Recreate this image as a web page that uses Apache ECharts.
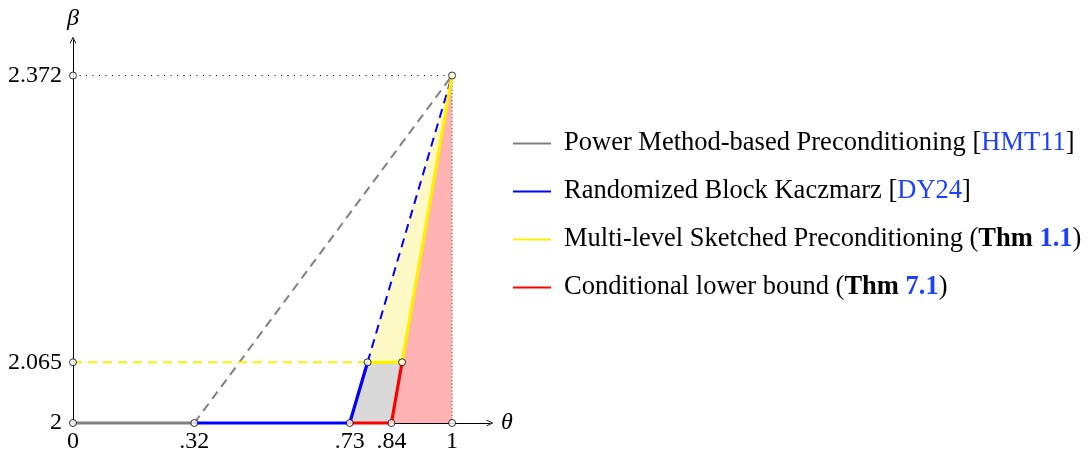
<!DOCTYPE html>
<html>
<head>
<meta charset="utf-8">
<script src="https://cdn.jsdelivr.net/npm/echarts@6/dist/echarts.min.js"></script>
<style>
html,body{margin:0;padding:0;background:#fff;}
#c{width:1092px;height:454px;}
</style>
</head>
<body>
<div id="c"></div>
<script>
// ---- data ----
const xTicks = [0, 0.32, 0.73, 0.84, 1];
const xTickLabels = ['0', '.32', '.73', '.84', '1'];
const yTicks = [2, 2.065, 2.372];
const yTickLabels = ['2', '2.065', '2.372'];

const names = [
  'Power Method-based Preconditioning',
  'Randomized Block Kaczmarz',
  'Multi-level Sketched Preconditioning',
  'Conditional lower bound'
];

const graySolid = [[0, 2], [0.32, 2]];
const grayDashed = [[0.32, 2], [1, 2.372]];
const blueSolid = [[0.32, 2], [0.73, 2], [0.777, 2.065]];
const blueDashed = [[0.777, 2.065], [1, 2.372]];
const redSolid = [[0.73, 2], [0.84, 2], [0.868, 2.065]];
const yellowSolid = [[0.777, 2.065], [0.868, 2.065], [1, 2.372]];
const yellowDashed = [[0, 2.065], [0.777, 2.065]];
const dottedTop = [[0, 2.372], [1, 2.372]];
const dottedRight = [[1, 2], [1, 2.372]];

const grayRegion = [[0.73, 2], [0.84, 2], [0.868, 2.065], [0.777, 2.065]];
const yellowRegion = [[0.777, 2.065], [0.868, 2.065], [1, 2.372]];
const redRegion = [[0.84, 2], [0.868, 2.065], [1, 2.372], [1, 2]];

const markerPoints = [[0, 2], [0.32, 2], [0.73, 2], [0.84, 2], [1, 2],
  [0, 2.065], [0, 2.372], [0.777, 2.065], [0.868, 2.065], [1, 2.372]];

// ---- chart ----
const FONT = 'Liberation Serif';
const GRAY = '#808080', BLUE = '#0000ff', RED = '#ff0000', YELLOW = '#fff000';
const LINK = '#1f3fff';
const LFS = 26.5;

function region(poly, color) {
  return {
    type: 'custom', silent: true, z: 1, clip: false,
    renderItem: function (params, api) {
      return {
        type: 'polygon',
        shape: { points: poly.map(function (p) { return api.coord(p); }) },
        style: { fill: color }
      };
    },
    data: [0]
  };
}
function line(name, data, color, width, dash, z) {
  return {
    type: 'line', name: name, data: data, clip: false, symbol: 'none',
    lineStyle: { color: color, width: width, type: dash || 'solid' },
    itemStyle: { color: color }, z: z || 3, silent: true, animation: false
  };
}

const arrowPath = 'path://M0,10 L5,0 L10,10 L8.8,10.5 L5,3 L1.2,10.5 Z';

const option = {
  animation: false,
  backgroundColor: '#fff',
  grid: { left: 73, right: 602, top: 40, bottom: 28 },
  xAxis: {
    type: 'value', min: 0, max: 1.1,
    axisLine: { lineStyle: { color: '#000', width: 1 }, symbol: ['none', arrowPath], symbolSize: [8, 7] },
    axisTick: { show: false },
    splitLine: { show: false },
    axisLabel: {
      customValues: xTicks,
      formatter: function (v) { var i = xTicks.indexOf(v); return i >= 0 ? xTickLabels[i] : ''; },
      color: '#000', fontFamily: FONT, fontSize: 24, margin: 7
    },
    name: 'θ', nameLocation: 'end', nameGap: 11,
    nameTextStyle: { fontFamily: FONT, fontStyle: 'italic', fontSize: 24, color: '#000', verticalAlign: 'middle' }
  },
  yAxis: {
    type: 'value', min: 2, max: 2.41,
    axisLine: { lineStyle: { color: '#000', width: 1 }, symbol: ['none', arrowPath], symbolSize: [8, 7] },
    axisTick: { show: false },
    splitLine: { show: false },
    axisLabel: {
      customValues: yTicks,
      formatter: function (v) { var i = yTicks.indexOf(v); return i >= 0 ? yTickLabels[i] : ''; },
      color: '#000', fontFamily: FONT, fontSize: 24, margin: 11
    },
    name: 'β', nameLocation: 'end', nameGap: 9,
    nameTextStyle: { fontFamily: FONT, fontStyle: 'italic', fontSize: 24, color: '#000', align: 'center' }
  },
  legend: {
    orient: 'vertical', left: 508, top: 125,
    itemWidth: 38, itemHeight: 2, itemGap: 21,
    icon: 'rect',
    data: names,
    selectedMode: false,
    formatter: function (name) {
      if (name === names[0]) return name + ' [{l|HMT11}]';
      if (name === names[1]) return name + ' [{l|DY24}]';
      if (name === names[2]) return name + ' ({b|Thm} {lb|1.1})';
      return name + ' ({b|Thm} {lb|7.1})';
    },
    textStyle: {
      fontFamily: FONT, fontSize: LFS, color: '#000', lineHeight: 24, padding: [0, 0, 0, 8],
      rich: {
        l: { color: LINK, fontFamily: FONT, fontSize: LFS, lineHeight: 24 },
        b: { fontWeight: 'bold', fontFamily: FONT, fontSize: LFS, color: '#000', lineHeight: 24 },
        lb: { fontWeight: 'bold', fontFamily: FONT, fontSize: LFS, color: LINK, lineHeight: 24 }
      }
    }
  },
  series: [
    region(redRegion, '#ffb3b3'),
    region(yellowRegion, '#fff9c6'),
    region(grayRegion, '#d9d9d9'),
    line('dotTop', dottedTop, '#000', 1, [1, 5.5], 2),
    line('dotRight', dottedRight, '#444', 1, [1, 2.5], 2),
    line(names[0], graySolid, GRAY, 3.2),
    line(names[0], grayDashed, GRAY, 2, [9, 6]),
    line(names[2], yellowDashed, YELLOW, 2, [9, 6]),
    line(names[1], blueDashed, BLUE, 2, [9, 6]),
    line(names[1], blueSolid, BLUE, 3.2),
    line(names[3], redSolid, RED, 3.2),
    line(names[2], yellowSolid, YELLOW, 3.2),
    {
      type: 'scatter', data: markerPoints, symbol: 'circle', symbolSize: 7,
      itemStyle: { color: '#fff', borderColor: '#000', borderWidth: 1 },
      z: 10, clip: false, silent: true
    }
  ]
};

const chart = echarts.init(document.getElementById('c'), null, { renderer: 'canvas' });
chart.setOption(option);
</script>
</body>
</html>
